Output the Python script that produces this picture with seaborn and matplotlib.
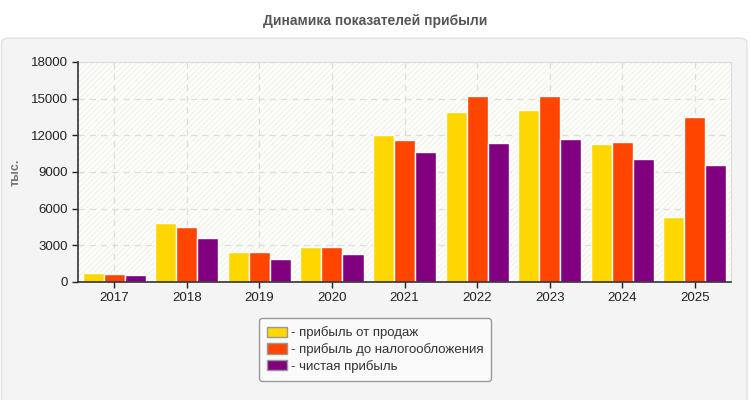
import pandas as pd
import matplotlib
matplotlib.use("Agg")
import matplotlib.pyplot as plt
from matplotlib.patches import FancyBboxPatch, Rectangle, Patch
import seaborn as sns

years = ["2017", "2018", "2019", "2020", "2021", "2022", "2023", "2024", "2025"]
series_names = ["прибыль от продаж", "прибыль до налогообложения", "чистая прибыль"]
sales_profit = [760, 4850, 2480, 2830, 12050, 13870, 14090, 11310, 5340]
pretax_profit = [650, 4520, 2420, 2830, 11640, 15240, 15240, 11480, 13520]
net_profit = [560, 3620, 1900, 2310, 10660, 11400, 11720, 10090, 9600]
colors = ["#FFD700", "#FF4500", "#800080"]
y_ticks = [0, 3000, 6000, 9000, 12000, 15000, 18000]

rows = []
for name, vals in zip(series_names, [sales_profit, pretax_profit, net_profit]):
    for y, v in zip(years, vals):
        rows.append({"year": y, "series": name, "value": v})
df = pd.DataFrame(rows)

sns.set_style("white")
plt.rcParams["font.family"] = ["Liberation Sans", "DejaVu Sans"]

fig = plt.figure(figsize=(7.5, 4), dpi=100)
fig.patch.set_facecolor("white")

# gray rounded panel behind the chart
panel = FancyBboxPatch((0.002, -0.05), 0.994, 0.955, boxstyle="round,pad=0,rounding_size=0.012",
                       transform=fig.transFigure, facecolor="#f4f4f4", edgecolor="#e2e2e2",
                       linewidth=1, zorder=-5)
fig.patches.append(panel)

fig.text(0.5, 0.948, "Динамика показателей прибыли", ha="center", va="center",
         fontsize=10, fontweight="bold", color="#555555")

ax = fig.add_axes([0.104, 0.295, 0.8707, 0.55])
ax.set_facecolor("#fefefa")
ax.add_patch(Rectangle((0, 0), 1, 1, transform=ax.transAxes, facecolor="none",
                       edgecolor="#f3f3ee", hatch="//////", linewidth=0, zorder=0))

sns.barplot(data=df, x="year", y="value", hue="series", palette=colors, ax=ax,
            width=0.87, edgecolor="white", linewidth=1, saturation=1, legend=False, zorder=3)

ax.set_ylim(0, 18000)
ax.set_yticks(y_ticks)
ax.set_xlim(-0.5, len(years) - 0.5)
ax.grid(True, axis="both", color="#dddddd", linestyle=(0, (5, 4)), linewidth=0.9, zorder=1)
ax.set_axisbelow(True)
ax.tick_params(axis="both", labelsize=9.5, colors="#222222", length=4, width=1,
               direction="out", left=True, bottom=True)
ax.tick_params(axis="y", pad=3)
ax.set_xlabel("")
ax.set_ylabel("тыс.", fontsize=9, fontweight="bold", color="#777777")
ax.yaxis.set_label_coords(-0.086, 0.5)
for side in ["top", "right"]:
    ax.spines[side].set_color("#dddddd")
for side in ["left", "bottom"]:
    ax.spines[side].set_color("#333333")
    ax.spines[side].set_linewidth(1.2)
    ax.spines[side].set_zorder(10)

handles = [Patch(facecolor=c, edgecolor="#999999", linewidth=1) for c in colors]
leg = fig.legend(handles, ["- " + n for n in series_names], loc="center",
                 bbox_to_anchor=(0.5, 0.126), fontsize=9.5, frameon=True, fancybox=True,
                 handlelength=1.5, handleheight=0.8, handletextpad=0.3, labelspacing=0.3,
                 borderpad=0.6, labelcolor="#333333")
leg.get_frame().set_facecolor("#fafafa")
leg.get_frame().set_edgecolor("#999999")
leg.get_frame().set_alpha(1)

fig.savefig("out.png", dpi=100)
